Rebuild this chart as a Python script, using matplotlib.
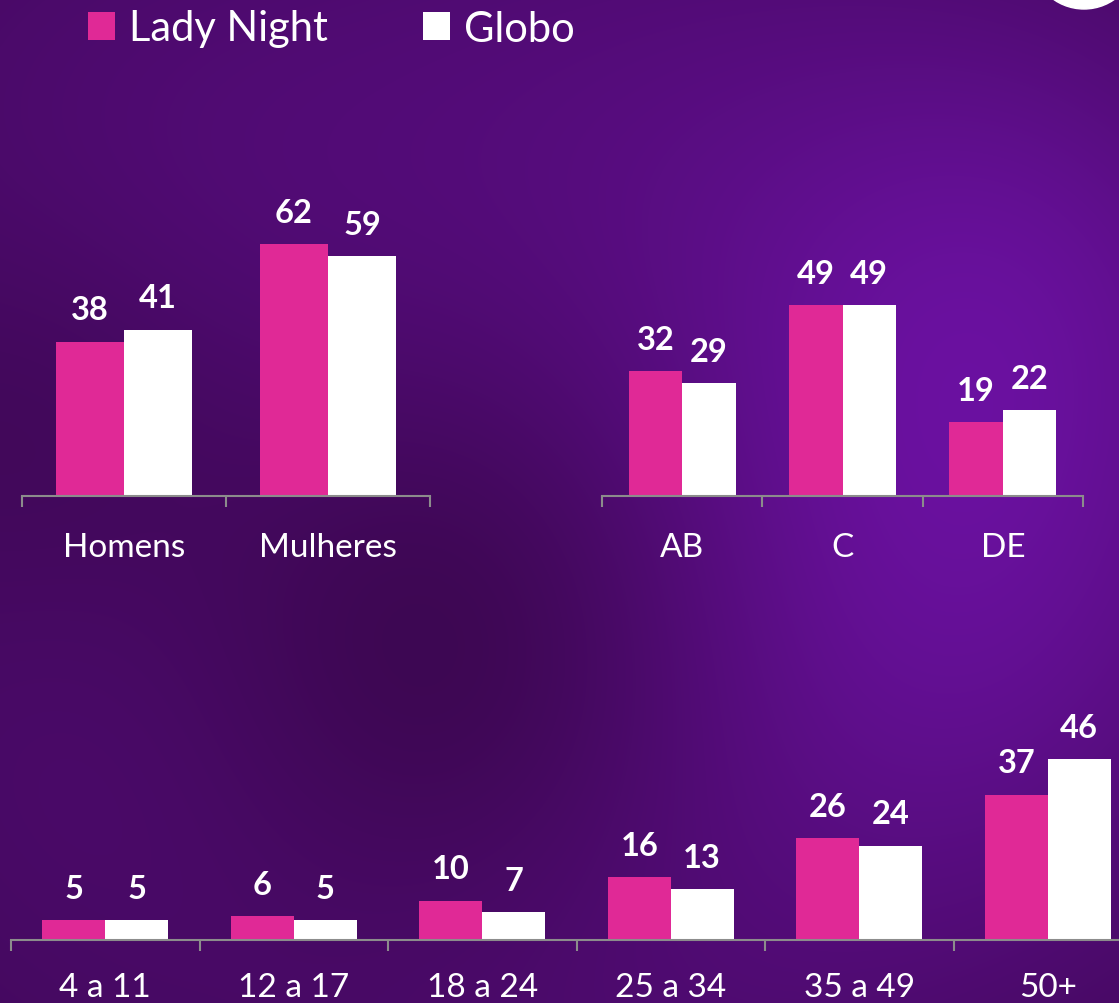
import numpy as np
import matplotlib
matplotlib.use("Agg")
import matplotlib.pyplot as plt
from matplotlib.patches import Circle

plt.rcParams['font.family'] = ['Lato', 'DejaVu Sans']

# data
series = ['Lady Night', 'Globo']
colors = ['#E02996', '#FFFFFF']

gender_cats = ['Homens', 'Mulheres']
gender_lady = [38, 62]
gender_globo = [41, 59]

class_cats = ['AB', 'C', 'DE']
class_lady = [32, 49, 19]
class_globo = [29, 49, 22]

age_cats = ['4 a 11', '12 a 17', '18 a 24', '25 a 34', '35 a 49', '50+']
age_lady = [5, 6, 10, 16, 26, 37]
age_globo = [5, 5, 7, 13, 24, 46]

W, H = 1119, 1004
fig = plt.figure(figsize=(W / 100, H / 100), dpi=100)

# background: dark purple with soft lighter patches
bg = fig.add_axes([0, 0, 1, 1], zorder=-10)
yy, xx = np.mgrid[0:H, 0:W]
base = np.array([0.25, 0.03, 0.34])
glow = np.array([0.14, 0.03, 0.24])
blobs = [  # x, y, radius, strength
    (950, 600, 260, 0.9),
    (150, 250, 300, 0.45),
    (700, 150, 280, 0.45),
    (1050, 250, 200, 0.5),
    (200, 750, 250, 0.35),
    (600, 950, 250, 0.35),
]
dark = [(450, 650, 220, 0.7), (40, 420, 160, 0.35)]
amp = np.zeros((H, W))
for bx, by, r, s in blobs:
    amp += s * np.exp(-((xx - bx) ** 2 + (yy - by) ** 2) / (2 * r ** 2))
for bx, by, r, s in dark:
    amp -= s * np.exp(-((xx - bx) ** 2 + (yy - by) ** 2) / (2 * r ** 2))
img = base[None, None, :] + amp[:, :, None] * glow[None, None, :]
img = np.clip(img, 0, 1)
bg.imshow(img, aspect='auto', extent=[0, W, H, 0])
bg.set_xlim(0, W)
bg.set_ylim(H, 0)
bg.axis('off')
bg.add_patch(Circle((1084, -43), 53, color='white'))

px_w = 1.0 / W
px_h = 1.0 / H


def bar_panel(rect, cats, lady, globo, ymax):
    ax = fig.add_axes(rect)
    ax.patch.set_alpha(0)
    x = np.arange(len(cats))
    w = 1 / 3
    b1 = ax.bar(x - w / 2, lady, w, color=colors[0], label=series[0])
    b2 = ax.bar(x + w / 2, globo, w, color=colors[1], label=series[1])
    for bars in (b1, b2):
        for rect_ in bars:
            ax.annotate(f"{rect_.get_height():.0f}",
                        (rect_.get_x() + rect_.get_width() / 2, rect_.get_height()),
                        xytext=(0, 16), textcoords='offset points',
                        ha='center', va='baseline', color='white',
                        fontsize=23.5, fontweight='bold')
    ax.set_xlim(-0.5, len(cats) - 0.5)
    ax.set_ylim(0, ymax)
    for s in ('top', 'left', 'right'):
        ax.spines[s].set_visible(False)
    ax.spines['bottom'].set_color('#8c8c8c')
    ax.spines['bottom'].set_linewidth(1.5)
    ax.set_yticks([])
    ax.set_xticks(x, cats)
    ax.set_xticks(np.arange(len(cats) + 1) - 0.5, minor=True)
    ax.tick_params(axis='x', which='major', length=0, pad=26,
                   labelsize=24, labelcolor='white')
    ax.tick_params(axis='x', which='minor', length=8, width=1.5,
                   color='#8c8c8c')
    return ax, b1, b2


_, *h1 = bar_panel([22 * px_w, 1 - 497 * px_h, 408 * px_w, 70 * 4.06 * px_h],
                   gender_cats, gender_lady, gender_globo, 70)
bar_panel([602 * px_w, 1 - 497 * px_h, 481 * px_w, 70 * 3.9 * px_h],
          class_cats, class_lady, class_globo, 70)
ax3, _, _ = bar_panel([11 * px_w, 1 - 940.7 * px_h, 1131 * px_w, 60 * 3.92 * px_h],
                      age_cats, age_lady, age_globo, 60)
# bottom labels sit close to the lower edge, as in the original
ax3.tick_params(axis='x', which='major', pad=23)

fig.legend(handles=h1, labels=series, loc='center left',
           bbox_to_anchor=(88 * px_w, 1 - 29.5 * px_h), ncol=2,
           frameon=False, fontsize=30, labelcolor='white',
           handlelength=0.65, handleheight=0.65, handletextpad=0.34,
           columnspacing=2.28, borderpad=0, borderaxespad=0)

fig.savefig('out.png', dpi=100)
